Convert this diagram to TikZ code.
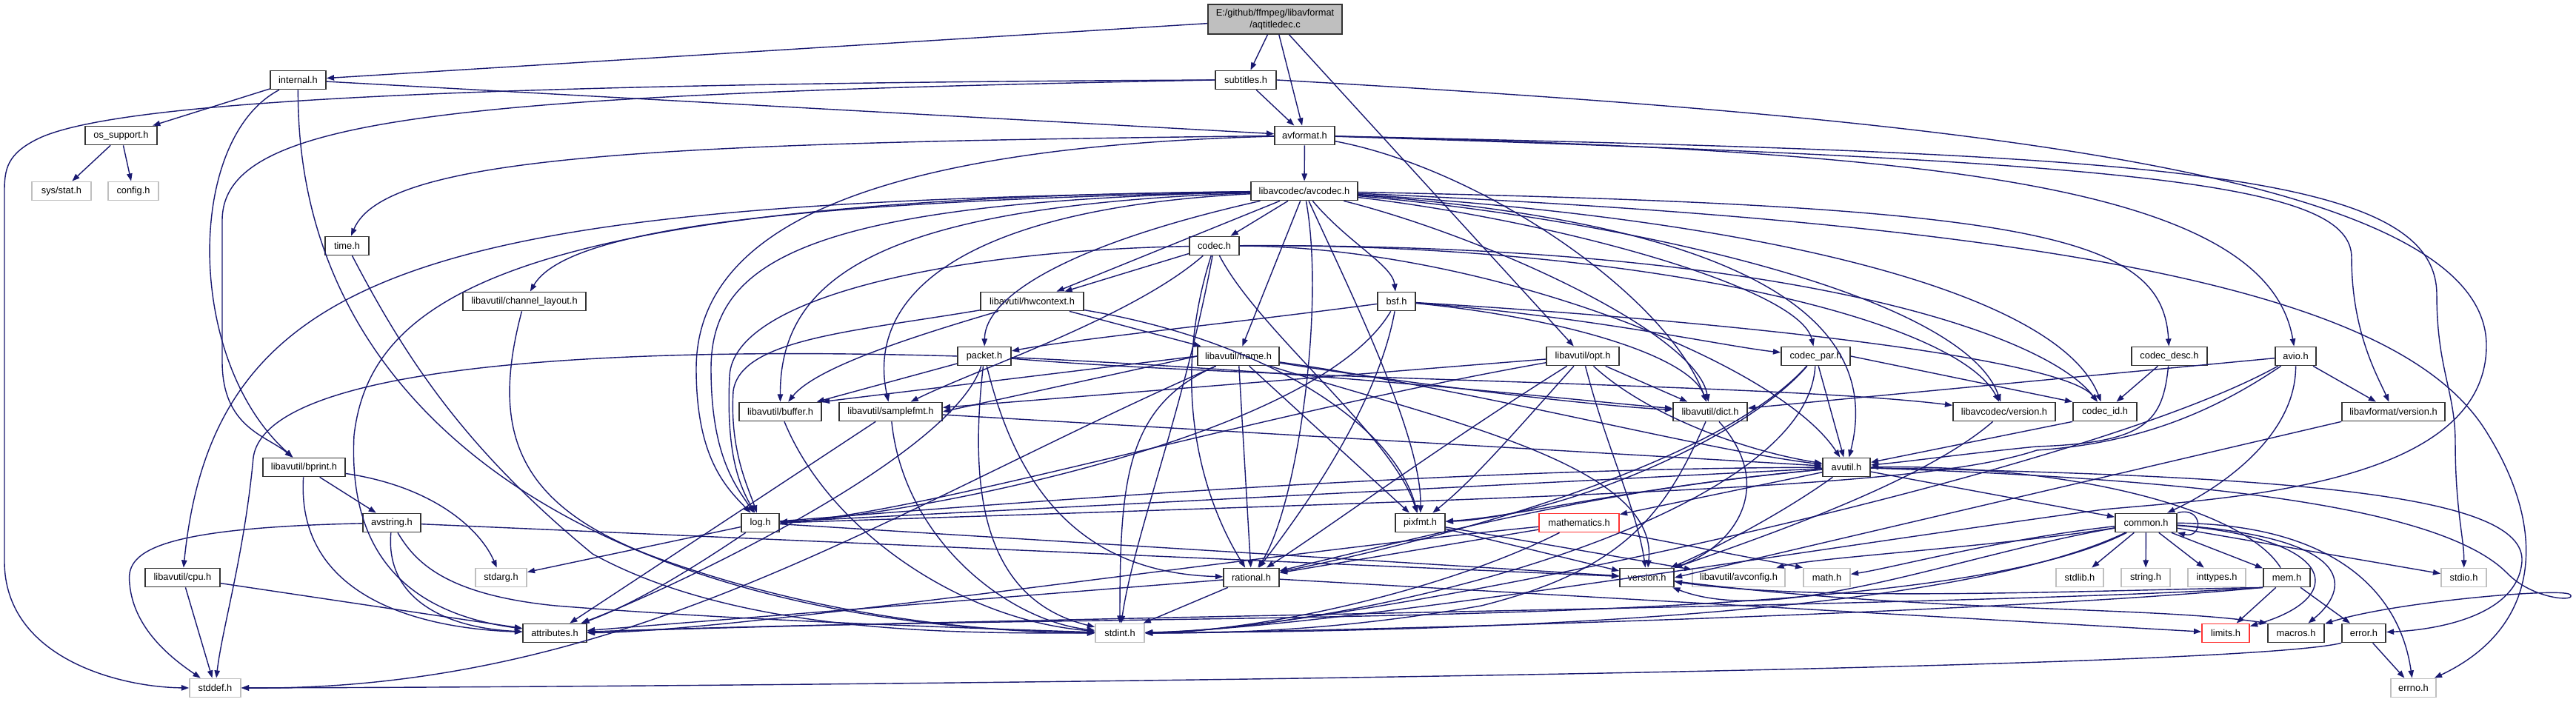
\documentclass[tikz,border=0pt]{standalone}
\usepackage{fontspec}
\setmainfont{Liberation Sans}
\usepackage{tikz}
\usetikzlibrary{arrows.meta}
\definecolor{navy}{RGB}{25,25,112}

\begin{document}
\begin{tikzpicture}[font=\fontsize{3.65}{4.5}\selectfont, >={Triangle[length=2.9pt,width=2.1pt]},
    hdr/.style={rectangle, draw=black!80, line width=0.5pt, fill=white,
                minimum height=0.25cm, inner sep=0pt, text centered},
    sys/.style={hdr, draw=gray!50},
    trunc/.style={hdr, draw=red!80},
    src/.style={hdr, fill=gray!50, minimum height=0.40cm, align=center},
    inc/.style={->, draw=navy, line width=0.4pt}]

    \useasboundingbox (0,0) rectangle (34.78,9.48);

    % ---------------- files ----------------
    \node (main)        [src,   minimum width=1.81cm] at (17.215,9.22) {E:/github/ffmpeg/libavformat\\/aqtitledec.c};
    \node (internal)    [hdr,   minimum width=0.75cm] at (4.025,8.40)  {internal.h};
    \node (subtitles)   [hdr,   minimum width=0.82cm] at (16.82,8.40)  {subtitles.h};
    \node (osupport)    [hdr,   minimum width=0.97cm] at (1.635,7.65)  {os\_support.h};
    \node (avformat)    [hdr,   minimum width=0.81cm] at (17.615,7.65) {avformat.h};
    \node (sysstat)     [sys,   minimum width=0.80cm] at (0.83,6.90)   {sys/stat.h};
    \node (config)      [sys,   minimum width=0.68cm] at (1.80,6.90)   {config.h};
    \node (avcodec)     [hdr,   minimum width=1.44cm] at (17.61,6.90)  {libavcodec/avcodec.h};
    \node (timeh)       [hdr,   minimum width=0.59cm] at (4.685,6.16)  {time.h};
    \node (codec)       [hdr,   minimum width=0.67cm] at (16.395,6.16) {codec.h};
    \node (chlayout)    [hdr,   minimum width=1.66cm] at (7.08,5.41)   {libavutil/channel\_layout.h};
    \node (hwctx)       [hdr,   minimum width=1.39cm] at (13.935,5.41) {libavutil/hwcontext.h};
    \node (bsf)         [hdr,   minimum width=0.51cm] at (18.855,5.41) {bsf.h};
    \node (packet)      [hdr,   minimum width=0.72cm] at (13.29,4.67)  {packet.h};
    \node (frame)       [hdr,   minimum width=1.10cm] at (16.72,4.67)  {libavutil/frame.h};
    \node (opt)         [hdr,   minimum width=0.98cm] at (21.37,4.67)  {libavutil/opt.h};
    \node (codecpar)    [hdr,   minimum width=0.93cm] at (24.515,4.67) {codec\_par.h};
    \node (codecdesc)   [hdr,   minimum width=1.02cm] at (29.29,4.67)  {codec\_desc.h};
    \node (avio)        [hdr,   minimum width=0.55cm] at (30.995,4.67) {avio.h};
    \node (buffer)      [hdr,   minimum width=1.11cm] at (10.535,3.92) {libavutil/buffer.h};
    \node (samplefmt)   [hdr,   minimum width=1.39cm] at (12.025,3.92) {libavutil/samplefmt.h};
    \node (dict)        [hdr,   minimum width=1.00cm] at (23.09,3.92)  {libavutil/dict.h};
    \node (lavcversion) [hdr,   minimum width=1.38cm] at (27.06,3.92)  {libavcodec/version.h};
    \node (codecid)     [hdr,   minimum width=0.86cm] at (28.42,3.92)  {codec\_id.h};
    \node (lavfversion) [hdr,   minimum width=1.39cm] at (32.315,3.92) {libavformat/version.h};
    \node (bprint)      [hdr,   minimum width=1.11cm] at (4.105,3.17)  {libavutil/bprint.h};
    \node (avutil)      [hdr,   minimum width=0.64cm] at (24.93,3.17)  {avutil.h};
    \node (avstring)    [hdr,   minimum width=0.78cm] at (5.29,2.42)   {avstring.h};
    \node (log)         [hdr,   minimum width=0.51cm] at (10.265,2.42) {log.h};
    \node (pixfmt)      [hdr,   minimum width=0.67cm] at (19.175,2.42) {pixfmt.h};
    \node (mathematics) [trunc, minimum width=1.08cm] at (21.32,2.42)  {mathematics.h};
    \node (common)      [hdr,   minimum width=0.83cm] at (28.975,2.42) {common.h};
    \node (cpu)         [hdr,   minimum width=1.01cm] at (2.465,1.68)  {libavutil/cpu.h};
    \node (stdarg)      [sys,   minimum width=0.69cm] at (6.765,1.68)  {stdarg.h};
    \node (rational)    [hdr,   minimum width=0.75cm] at (16.895,1.68) {rational.h};
    \node (version)     [hdr,   minimum width=0.73cm] at (22.235,1.68) {version.h};
    \node (avconfig)    [sys,   minimum width=1.25cm] at (23.475,1.68) {libavutil/avconfig.h};
    \node (math)        [sys,   minimum width=0.63cm] at (24.665,1.68) {math.h};
    \node (stdlib)      [sys,   minimum width=0.64cm] at (28.08,1.68)  {stdlib.h};
    \node (stringh)     [sys,   minimum width=0.66cm] at (28.97,1.68)  {string.h};
    \node (inttypes)    [sys,   minimum width=0.78cm] at (29.93,1.68)  {inttypes.h};
    \node (mem)         [hdr,   minimum width=0.63cm] at (30.875,1.68) {mem.h};
    \node (stdio)       [sys,   minimum width=0.61cm] at (33.265,1.68) {stdio.h};
    \node (attributes)  [hdr,   minimum width=0.86cm] at (7.49,0.93)   {attributes.h};
    \node (stdint)      [sys,   minimum width=0.66cm] at (15.12,0.93)  {stdint.h};
    \node (limits)      [trunc, minimum width=0.64cm] at (30.05,0.93)  {limits.h};
    \node (macros)      [hdr,   minimum width=0.76cm] at (31.00,0.93)  {macros.h};
    \node (error)       [hdr,   minimum width=0.59cm] at (31.915,0.93) {error.h};
    \node (stddef)      [sys,   minimum width=0.69cm] at (2.905,0.19)  {stddef.h};
    \node (errno)       [sys,   minimum width=0.61cm] at (32.585,0.19) {errno.h};

    % ---------------- includes: top ----------------
    \draw [inc] (main) -- (internal);
    \draw [inc] (main) -- (subtitles);
    \draw [inc] (main) -- (avformat);
    \draw [inc] (main) -- (opt);

    \draw [inc] (internal) -- (osupport);
    \draw [inc] (internal) -- (avformat);
    \draw [inc] (internal) .. controls (2.5,7.6) and (2.5,4.6) .. (bprint);
    \draw [inc] (internal) .. controls (4.0,3.6) and (8.5,1.0) .. (stdint);

    \draw [inc] (subtitles) -- (avformat);
    \draw [inc] (subtitles.west) .. controls (6,8.35) and (1.5,8.1) .. (0.5,7.6) .. controls (0.1,7.4) and (0.06,7.2) .. (0.06,6.9) -- (0.06,1.9) .. controls (0.06,0.6) and (1.6,0.2) .. (stddef.west);
    \draw [inc] (subtitles.west) .. controls (6,8.2) and (3.0,7.9) .. (3.0,6.5) -- (3.0,4.6) .. controls (3.0,3.7) and (3.6,3.6) .. (bprint);
    \draw [inc] (subtitles.east) .. controls (26,7.9) and (33.6,7.2) .. (33.57,4.8) .. controls (33.55,2.9) and (30,2.75) .. (28.4,2.6) .. controls (24,2.0) and (18,1.0) .. (stdint);

    \draw [inc] (osupport) -- (sysstat);
    \draw [inc] (osupport) -- (config);

    \draw [inc] (avformat) -- (avcodec);
    \draw [inc] (avformat) .. controls (9,7.55) and (5.2,7.4) .. (timeh);
    \draw [inc] (avformat) .. controls (12,7.5) and (9.4,6.5) .. (9.4,4.5) .. controls (9.4,3.3) and (9.8,2.9) .. (log);
    \draw [inc] (avformat) .. controls (20,7.2) and (22.5,5.5) .. (dict);
    \draw [inc] (avformat) .. controls (29,7.4) and (32.9,7.2) .. (32.9,5.5) .. controls (32.9,4.5) and (33.15,4.2) .. (33.15,3.5) .. controls (33.15,2.6) and (33.27,2.2) .. (stdio);
    \draw [inc] (avformat) .. controls (29,7.3) and (31.75,7.0) .. (31.75,6.0) .. controls (31.75,5.0) and (32.1,4.4) .. (lavfversion);
    \draw [inc] (avformat) .. controls (26,7.45) and (30.6,7.0) .. (avio);

    % ---------------- includes: libavcodec ----------------
    \draw [inc] (avcodec) -- (codec);
    \draw [inc] (avcodec) .. controls (18.2,6.2) and (18.8,5.9) .. (bsf);
    \draw [inc] (avcodec) -- (hwctx);
    \draw [inc] (avcodec) -- (frame);
    \draw [inc] (avcodec) .. controls (14.5,6.2) and (13.3,5.5) .. (packet);
    \draw [inc] (avcodec) .. controls (10,6.75) and (7.6,6.3) .. (chlayout);
    \draw [inc] (avcodec) .. controls (6,6.75) and (2.9,6.0) .. (cpu);
    \draw [inc] (avcodec) .. controls (11,6.75) and (9.6,6.0) .. (9.6,4.5) .. controls (9.6,3.3) and (9.95,2.9) .. (log);
    \draw [inc] (avcodec) .. controls (7,6.8) and (5.0,5.5) .. (4.78,3.6) .. controls (4.7,2.0) and (5.5,1.2) .. (attributes);
    \draw [inc] (avcodec) .. controls (12,6.7) and (10.53,5.8) .. (buffer);
    \draw [inc] (avcodec) .. controls (12.8,6.65) and (11.7,5.4) .. (samplefmt);
    \draw [inc] (avcodec) .. controls (29,6.4) and (32.6,5.3) .. (33.6,3.6) .. controls (34.4,2.3) and (34.3,1.0) .. (errno);
    \draw [inc] (avcodec) .. controls (27.5,6.7) and (29.2,6.3) .. (codecdesc);
    \draw [inc] (avcodec) .. controls (24,6.5) and (27.8,5.5) .. (codecid);
    \draw [inc] (avcodec) .. controls (22,6.5) and (26.5,5.5) .. (lavcversion);
    \draw [inc] (avcodec) .. controls (23,6.5) and (25.5,5.4) .. (avutil);
    \draw [inc] (avcodec) .. controls (20,6.3) and (22.9,5.0) .. (dict);
    \draw [inc] (avcodec) .. controls (21,6.5) and (24.3,5.6) .. (codecpar);
    \draw [inc] (avcodec) .. controls (18.2,5.6) and (19.2,3.6) .. (pixfmt);
    \draw [inc] (avcodec) .. controls (17.9,5.3) and (17.5,2.6) .. (rational);

    \draw [inc] (codec) .. controls (16.0,4.0) and (15.3,2.2) .. (stdint);
    \draw [inc] (codec) .. controls (20,6.15) and (24.0,4.6) .. (avutil);
    \draw [inc] (codec) -- (hwctx);
    \draw [inc] (codec) .. controls (13,6.1) and (9.9,5.5) .. (9.85,4.4) .. controls (9.8,3.3) and (10.0,2.9) .. (log);
    \draw [inc] (codec) .. controls (17.0,5.0) and (18.8,3.6) .. (pixfmt);
    \draw [inc] (codec) .. controls (15.8,4.3) and (16.2,2.8) .. (rational);
    \draw [inc] (codec) .. controls (15.3,5.2) and (13.2,4.5) .. (samplefmt);
    \draw [inc] (codec) .. controls (24,6.2) and (27.6,5.0) .. (codecid);
    \draw [inc] (codec) .. controls (22,6.2) and (26.4,5.2) .. (lavcversion);

    \draw [inc] (chlayout) .. controls (6.6,3.6) and (7.0,2.6) .. (9,1.9) .. controls (11,1.2) and (13,0.95) .. (stdint);
    \draw [inc] (timeh) .. controls (5.5,4.6) and (6.3,3.4) .. (8.0,2.0) .. controls (10,0.9) and (13,0.93) .. (stdint);

    \draw [inc] (hwctx) .. controls (12.2,4.9) and (11.0,4.5) .. (buffer);
    \draw [inc] (hwctx) -- (frame);
    \draw [inc] (hwctx) .. controls (11.5,5.0) and (10.0,4.9) .. (9.9,4.2) .. controls (9.85,3.4) and (10.1,2.9) .. (log);
    \draw [inc] (hwctx) .. controls (17,4.9) and (18.8,3.8) .. (pixfmt);

    \draw [inc] (bsf) .. controls (21,5.2) and (22.8,4.7) .. (dict);
    \draw [inc] (bsf) .. controls (17.8,3.6) and (12.5,2.55) .. (log.east);
    \draw [inc] (bsf) .. controls (18.6,4.0) and (17.6,2.6) .. (rational);
    \draw [inc] (bsf) .. controls (24,5.1) and (27.9,4.6) .. (codecid);
    \draw [inc] (bsf) .. controls (21.5,5.2) and (23.3,4.8) .. (codecpar);
    \draw [inc] (bsf) .. controls (16.5,5.1) and (14.5,4.9) .. (packet);

    \draw [inc] (packet.west) .. controls (8.5,4.8) and (3.6,4.6) .. (3.42,3.3) .. controls (3.3,2.0) and (3.0,1.0) .. (stddef);
    \draw [inc] (packet) .. controls (13.1,3.0) and (13.2,1.4) .. (stdint);
    \draw [inc] (packet) .. controls (12.85,3.3) and (9,1.5) .. (attributes);
    \draw [inc] (packet) -- (buffer);
    \draw [inc] (packet) .. controls (18,4.45) and (21,4.1) .. (dict);
    \draw [inc] (packet) .. controls (13.7,3.0) and (14.5,1.75) .. (rational);
    \draw [inc] (packet) .. controls (17,4.35) and (24,4.3) .. (lavcversion);

    \draw [inc] (frame) .. controls (12,2.6) and (8.5,0.15) .. (stddef.east);
    \draw [inc] (frame) .. controls (15.2,4.0) and (15.12,3.0) .. (stdint);
    \draw [inc] (frame) .. controls (20,4.2) and (23,3.4) .. (avutil);
    \draw [inc] (frame.west) -- (buffer.north east);
    \draw [inc] (frame) .. controls (19,4.3) and (21.5,4.0) .. (dict);
    \draw [inc] (frame) -- (rational);
    \draw [inc] (frame.west) -- (samplefmt.east);
    \draw [inc] (frame) -- (pixfmt);
    \draw [inc] (frame) .. controls (19.5,3.8) and (22.4,3.2) .. (version);

    \draw [inc] (opt) .. controls (19.5,3.5) and (18,2.4) .. (rational);
    \draw [inc] (opt) .. controls (22.2,3.9) and (23.5,3.4) .. (avutil);
    \draw [inc] (opt) -- (dict);
    \draw [inc] (opt) .. controls (17,3.9) and (12.5,2.55) .. (log.east);
    \draw [inc] (opt) .. controls (20.5,3.7) and (19.9,3.0) .. (pixfmt);
    \draw [inc] (opt) -- (samplefmt);
    \draw [inc] (opt) .. controls (21.7,3.4) and (22.1,2.6) .. (version);

    \draw [inc] (codecpar) .. controls (24.4,2.5) and (18.5,1.0) .. (stdint);
    \draw [inc] (codecpar) -- (avutil);
    \draw [inc] (codecpar) .. controls (23,3.0) and (18.5,2.0) .. (rational);
    \draw [inc] (codecpar) .. controls (23.5,3.5) and (21,2.5) .. (pixfmt);
    \draw [inc] (codecpar.east) -- (codecid.north west);

    \draw [inc] (codecdesc) .. controls (29.2,3.8) and (29.0,3.5) .. (27.5,3.45) .. controls (26.5,3.35) and (25.8,3.25) .. (avutil);
    \draw [inc] (codecdesc) -- (codecid);

    \draw [inc] (avio) .. controls (28,3.0) and (18,0.95) .. (stdint);
    \draw [inc] (avio) .. controls (31.0,3.6) and (30.0,2.9) .. (common);
    \draw [inc] (avio) -- (dict);
    \draw [inc] (avio) .. controls (30,4.0) and (29,3.5) .. (27.5,3.4) .. controls (26,2.9) and (22,2.8) .. (log.east);
    \draw [inc] (avio) -- (lavfversion);

    % ---------------- includes: libavutil ----------------
    \draw [inc] (bprint) .. controls (5.9,2.9) and (6.5,2.3) .. (stdarg);
    \draw [inc] (bprint) .. controls (4.0,1.5) and (5.5,1.0) .. (attributes);
    \draw [inc] (bprint) -- (avstring);

    \draw [inc] (buffer) .. controls (11.2,2.3) and (13,1.1) .. (stdint);

    \draw [inc] (samplefmt) .. controls (12.2,2.2) and (13.6,1.1) .. (stdint);
    \draw [inc] (samplefmt) -- (avutil);
    \draw [inc] (samplefmt) -- (attributes);

    \draw [inc] (dict) .. controls (22.5,2.6) and (22.0,1.8) .. (20,1.3) .. controls (18,0.95) and (16.5,0.93) .. (stdint);
    \draw [inc] (dict) .. controls (24.0,2.9) and (23.4,2.1) .. (version);

    \draw [inc] (lavcversion) .. controls (26,3.0) and (24,2.3) .. (version);
    \draw [inc] (codecid.south west) -- (avutil);
    \draw [inc] (lavfversion.south west) -- (version.east);

    \draw [inc] (avutil) -- (common);
    \draw [inc] (avutil) .. controls (31,3.05) and (34.1,2.8) .. (34.05,1.9) .. controls (34.0,1.2) and (33,0.98) .. (error);
    \draw [inc] (avutil) .. controls (22,2.9) and (20.3,2.5) .. (rational);
    \draw [inc] (avutil) .. controls (24,2.5) and (23,2.0) .. (version);
    \draw [inc] (avutil) .. controls (30,3.0) and (33.0,2.6) .. (33.85,1.74) .. controls (34.2,1.38) and (34.8,1.35) .. (34.7,1.45) .. controls (34.6,1.55) and (32.3,1.35) .. (macros);
    \draw [inc] (avutil) -- (mathematics);
    \draw [inc] (avutil) -- (log);
    \draw [inc] (avutil) .. controls (22,2.9) and (20.5,2.5) .. (pixfmt);

    \draw [inc] (log) -- (stdarg);
    \draw [inc] (log) .. controls (15,2.8) and (20,3.15) .. (avutil);
    \draw [inc] (log) .. controls (9.2,1.7) and (8.5,1.3) .. (attributes);
    \draw [inc] (log) -- (version);

    \draw [inc] (pixfmt) -- (avconfig);
    \draw [inc] (pixfmt) -- (version);

    \draw [inc] (mathematics) .. controls (19.5,1.5) and (17,0.95) .. (stdint);
    \draw [inc] (mathematics.south east) -- (math.north west);
    \draw [inc] (mathematics) .. controls (17,2.0) and (10,0.95) .. (attributes);
    \draw [inc] (mathematics) -- (rational);

    \draw [inc] (common.north east) .. controls (29.75,2.65) and (29.75,2.2) .. (common.south east);
    \draw [inc] (common) -- (stdlib);
    \draw [inc] (common) -- (stringh);
    \draw [inc] (common) -- (inttypes);
    \draw [inc] (common) -- (mem);
    \draw [inc] (common) -- (stdio);
    \draw [inc] (common) .. controls (31.6,2.2) and (31.7,1.4) .. (limits);
    \draw [inc] (common) .. controls (31.9,2.2) and (31.7,1.5) .. (macros);
    \draw [inc] (common) .. controls (31.5,2.4) and (32.4,1.5) .. (errno);
    \draw [inc] (common) .. controls (27,2.2) and (25.5,1.8) .. (math);
    \draw [inc] (common) .. controls (27,2.1) and (24.5,1.95) .. (avconfig);
    \draw [inc] (common) .. controls (26.5,2.0) and (24,1.0) .. (version);
    \draw [inc] (common) .. controls (26,0.9) and (16,1.25) .. (attributes);
    \draw [inc] (common) .. controls (26,1.0) and (18,0.95) .. (stdint);

    \draw [inc] (cpu) -- (stddef);
    \draw [inc] (cpu) -- (attributes);

    \draw [inc] (avstring) .. controls (2.0,2.35) and (1.7,2.0) .. (1.75,1.6) .. controls (1.8,1.0) and (2.3,0.6) .. (stddef);
    \draw [inc] (avstring) .. controls (5.6,1.9) and (6.0,1.45) .. (7.5,1.3) .. controls (10,1.1) and (13,1.0) .. (stdint);
    \draw [inc] (avstring) .. controls (5.2,1.4) and (6.0,1.0) .. (attributes);
    \draw [inc] (avstring) -- (version);

    \draw [inc] (rational) -- (stdint);
    \draw [inc] (rational) -- (limits);
    \draw [inc] (rational) -- (attributes);

    \draw [inc] (version) .. controls (26,1.2) and (29,1.3) .. (macros.north west);

    \draw [inc] (mem) -- (limits);
    \draw [inc] (mem) -- (error);
    \draw [inc] (mem.south west) .. controls (27,1.2) and (18,0.95) .. (stdint);
    \draw [inc] (mem.south west) .. controls (27,1.3) and (14,1.15) .. (attributes);
    \draw [inc] (mem) .. controls (30.3,2.6) and (28,3.2) .. (avutil);
    \draw [inc] (mem.south west) .. controls (28,1.5) and (24.5,1.35) .. (version);

    \draw [inc] (error) -- (errno);
    \draw [inc] (error.south west) .. controls (30,0.4) and (10,0.2) .. (stddef);
\end{tikzpicture}
\end{document}
